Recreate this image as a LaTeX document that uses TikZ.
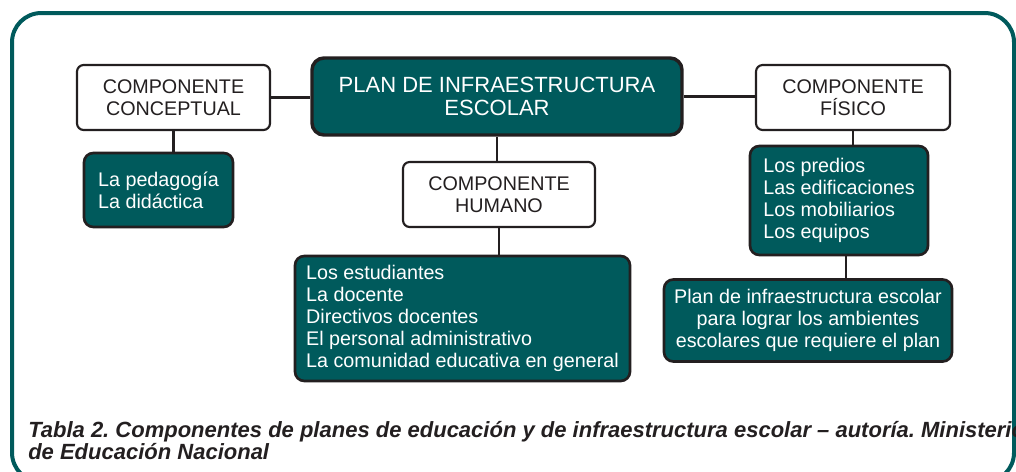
\documentclass[tikz,border=0pt]{standalone}
\usepackage{fontspec}
\setmainfont{Liberation Sans}
\usepackage{xcolor}
\usetikzlibrary{positioning,calc}
\definecolor{teal}{RGB}{0,90,92}
\definecolor{ink}{RGB}{35,31,32}
\tikzset{
    compbox/.style={draw=ink, line width=1.6pt, fill=white, rounded corners=5pt, text=ink,
        align=center, font=\fontsize{14.8}{16.5}\selectfont, inner sep=0pt},
    listbox/.style={draw=ink, line width=2pt, fill=teal, rounded corners=7pt, text=white,
        align=left, font=\fontsize{14.8}{16.5}\selectfont, inner sep=0pt},
    link/.style={draw=ink, line width=1.6pt}
}
\frenchspacing
\begin{document}
\begin{tikzpicture}[x=0.75pt, y=-0.75pt]
    \useasboundingbox (0,0) rectangle (1016,471);
    % Frame
    \begin{scope}
        \clip (0,0) rectangle (1016,471);
        \draw[teal, line width=3pt, rounded corners=22pt] (12,13) rectangle (1014,482);
    \end{scope}

    % Central plan
    \node[draw=ink, line width=2.6pt, fill=teal, rounded corners=9pt, text=white, align=center,
        font=\fontsize{16.5}{17.5}\selectfont, minimum width=277.5pt, minimum height=57.75pt]
        (plan) at (497,96.5) {PLAN DE INFRAESTRUCTURA\\ESCOLAR};

    % Conceptual
    \node[compbox, minimum width=144.75pt, minimum height=48.75pt] (conc) at (173.5,97.5)
        {COMPONENTE\\CONCEPTUAL};
    \node[listbox, minimum width=111.75pt, minimum height=55.5pt] (ped) at (158.5,190)
        {La pedagogía\\La didáctica};

    % Humano
    \node[compbox, minimum width=144pt, minimum height=48.75pt] (hum) at (499,194.5)
        {COMPONENTE\\HUMANO};
    \node[listbox, minimum width=251.25pt, minimum height=93.75pt] (est) at (462.5,318.5)
        {Los estudiantes\\La docente\\Directivos docentes\\El personal administrativo\\La comunidad educativa en general};

    % Fisico
    \node[compbox, minimum width=145.5pt, minimum height=48.75pt] (fis) at (853,97.5)
        {COMPONENTE\\FÍSICO};
    \node[listbox, minimum width=133.5pt, minimum height=81.75pt] (pred) at (839,200.5)
        {Los predios\\Las edificaciones\\Los mobiliarios\\Los equipos};
    \node[listbox, align=center, minimum width=216pt, minimum height=61.5pt] (amb) at (808,320.5)
        {Plan de infraestructura escolar\\para lograr los ambientes\\escolares que requiere el plan};

    % Connectors
    \draw[link] (conc.east) -- (conc.east -| plan.west);
    \draw[link] (plan.east) -- (plan.east -| fis.west);
    \draw[link] (conc.south) -- (conc.south |- ped.north);
    \draw[link] (plan.south) -- (plan.south |- hum.north);
    \draw[link] (hum.south) -- (hum.south |- est.north);
    \draw[link] (fis.south) -- (fis.south |- pred.north);
    \draw[link] ([xshift=5pt]pred.south) -- ([xshift=5pt]pred.south |- amb.north);

    % Caption
    \node[anchor=north west, align=left, text=ink, inner sep=0pt,
        font=\fontsize{16.5}{16.8}\selectfont\bfseries\itshape] (cap) at (28,421)
        {Tabla 2. Componentes de planes de educación y de infraestructura escolar – autoría. Ministerio\\de Educación Nacional};
\end{tikzpicture}
\end{document}
